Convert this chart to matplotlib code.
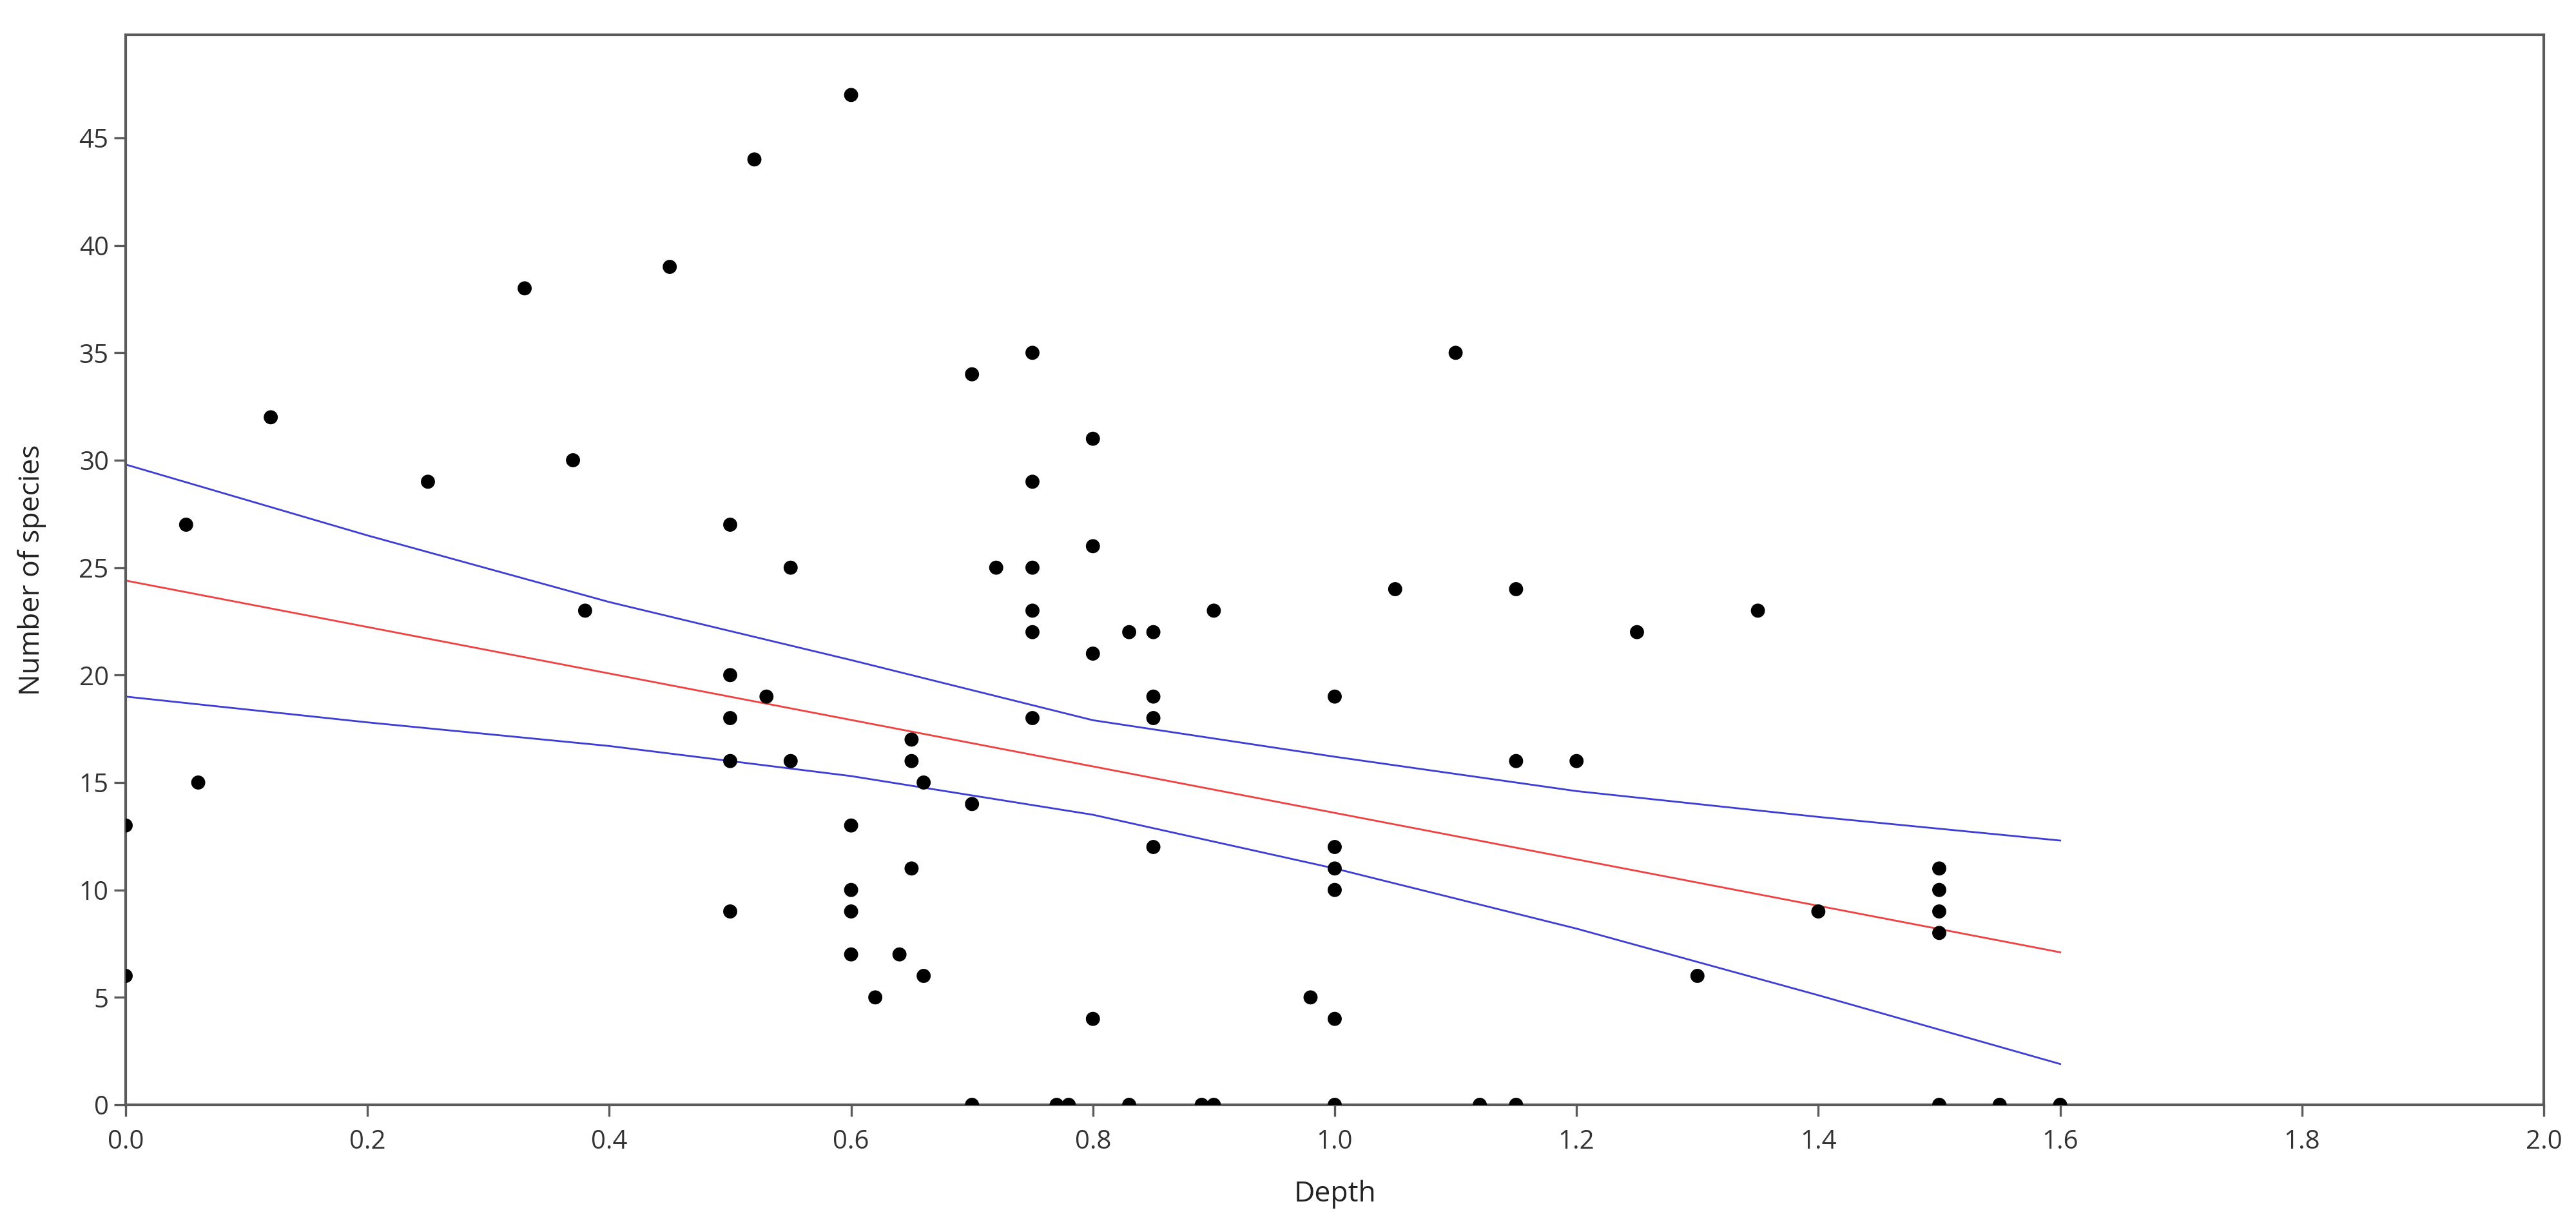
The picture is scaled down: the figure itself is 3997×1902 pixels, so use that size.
import matplotlib
matplotlib.use("Agg")
import matplotlib.pyplot as plt

# Observed data: depth vs number of species
depth = [0.00, 0.00, 0.05, 0.06, 0.12, 0.25, 0.33, 0.37, 0.38, 0.45,
         0.50, 0.50, 0.50, 0.50, 0.50, 0.52, 0.53, 0.55, 0.55,
         0.60, 0.60, 0.60, 0.60, 0.60, 0.62, 0.64, 0.65, 0.65, 0.65,
         0.66, 0.66, 0.70, 0.70, 0.70, 0.72,
         0.75, 0.75, 0.75, 0.75, 0.75, 0.75, 0.77, 0.78,
         0.80, 0.80, 0.80, 0.80, 0.83, 0.83, 0.85, 0.85, 0.85, 0.85,
         0.89, 0.90, 0.90, 0.98,
         1.00, 1.00, 1.00, 1.00, 1.00, 1.00, 1.05, 1.10, 1.12,
         1.15, 1.15, 1.15, 1.20, 1.25, 1.30, 1.35, 1.40,
         1.50, 1.50, 1.50, 1.50, 1.50, 1.55, 1.60]
species = [13, 6, 27, 15, 32, 29, 38, 30, 23, 39,
           27, 20, 18, 16, 9, 44, 19, 25, 16,
           47, 13, 10, 9, 7, 5, 7, 17, 16, 11,
           15, 6, 34, 14, 0, 25,
           35, 29, 25, 23, 22, 18, 0, 0,
           31, 26, 21, 4, 22, 0, 22, 19, 18, 12,
           0, 0, 23, 5,
           19, 12, 11, 10, 4, 0, 24, 35, 0,
           24, 16, 0, 16, 22, 6, 23, 9,
           11, 10, 9, 8, 0, 0, 0]

# Fitted line and confidence band
fit_x = [0.0, 1.6]
fit_y = [24.4, 7.1]
band_x = [0.0, 0.2, 0.4, 0.6, 0.8, 1.0, 1.2, 1.4, 1.6]
band_upper = [29.8, 26.5, 23.4, 20.7, 17.9, 16.2, 14.6, 13.4, 12.3]
band_lower = [19.0, 17.8, 16.7, 15.3, 13.5, 11.0, 8.2, 5.1, 1.9]

x_ticks = [0.0, 0.2, 0.4, 0.6, 0.8, 1.0, 1.2, 1.4, 1.6, 1.8, 2.0]
y_ticks = [0, 5, 10, 15, 20, 25, 30, 35, 40, 45]

plt.rcParams["font.family"] = ["Open Sans", "DejaVu Sans"]

fig = plt.figure(figsize=(19.99, 9.51), dpi=200)
ax = fig.add_axes([195 / 3998, 1 - 1714 / 1902, (3947 - 195) / 3998, (1714 - 54) / 1902])

ax.plot(band_x, band_upper, color="#3c3cd6", linewidth=1.0, zorder=2)
ax.plot(band_x, band_lower, color="#3c3cd6", linewidth=1.0, zorder=2)
ax.plot(fit_x, fit_y, color="#f04040", linewidth=1.0, zorder=2)
ax.scatter(depth, species, s=62, color="black", edgecolors="none", zorder=3)

ax.set_xlim(0, 2.0)
ax.set_ylim(0, 49.8)
ax.set_xticks(x_ticks)
ax.set_xticklabels([f"{t:.1f}" for t in x_ticks])
ax.set_yticks(y_ticks)

for side in ["left", "right", "top", "bottom"]:
    ax.spines[side].set_color("#5a5a5a")
    ax.spines[side].set_linewidth(1.5)

ax.tick_params(axis="both", direction="out", length=6.5, width=1.2,
               color="#5a5a5a", labelsize=14.5, labelcolor="#333333")
ax.tick_params(axis="x", pad=7)
ax.tick_params(axis="y", pad=3)

ax.set_xlabel("Depth", fontsize=16, color="#222222", labelpad=14)
ax.set_ylabel("Number of species", fontsize=16, color="#222222", labelpad=18)

fig.savefig("out.png", dpi=200, facecolor="white")
